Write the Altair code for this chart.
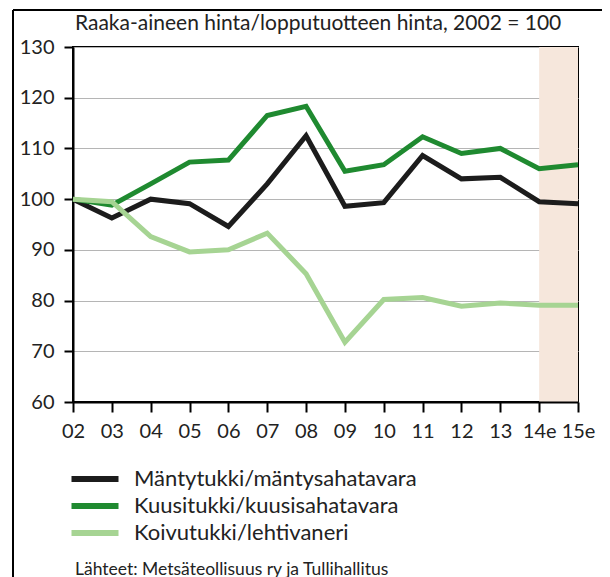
import altair as alt
import pandas as pd

years = ["02", "03", "04", "05", "06", "07", "08", "09", "10", "11", "12", "13", "14e", "15e"]
series_names = ["Mäntytukki/mäntysahatavara", "Kuusitukki/kuusisahatavara", "Koivutukki/lehtivaneri"]
manty = [100, 96.3, 100, 99.1, 94.6, 103, 112.5, 98.6, 99.3, 108.6, 104, 104.3, 99.5, 99.1]
kuusi = [100, 98.8, 103, 107.3, 107.7, 116.5, 118.3, 105.5, 106.8, 112.3, 109, 110, 106, 106.8]
koivu = [100, 99.5, 92.6, 89.6, 90, 93.3, 85.3, 71.8, 80.2, 80.6, 78.9, 79.5, 79.1, 79.1]
colors = ["#1c1c1c", "#1f8a30", "#a6d493"]
forecast_start, forecast_end = "14e", "15e"
title_text = "Raaka-aineen hinta/lopputuotteen hinta, 2002 = 100"
source_text = "Lähteet: Metsäteollisuus ry ja Tullihallitus"

rows = []
for k, (name, vals) in enumerate(zip(series_names, [manty, kuusi, koivu])):
    for y, v in zip(years, vals):
        rows.append({"year": y, "value": v, "series": name, "order": k})
df = pd.DataFrame(rows)

W, H = 505, 355
FONT = "Lato"
TXT = "#222222"

xscale = alt.Scale(type="point", domain=years, padding=0)
yscale = alt.Scale(domain=[60, 130], nice=False)
xaxis = alt.Axis(title=None, labelAngle=0, ticks=True, tickSize=10, tickWidth=2,
                 tickColor="black", domainColor="black", domainWidth=2,
                 labelFontSize=20, labelPadding=9, labelColor=TXT,
                 labelFont=FONT, grid=False)
yaxis = alt.Axis(title=None, values=list(range(60, 131, 10)), tickSize=9, tickWidth=2,
                 tickColor="black", domainColor="black", domainWidth=2,
                 labelFontSize=20, labelPadding=10, labelColor=TXT, labelFont=FONT,
                 grid=True, gridColor="#b5b5b5", gridWidth=1)

shade = alt.Chart(pd.DataFrame({"a": [forecast_start], "b": [forecast_end]})).mark_rect(
    color="#f6e7dc"
).encode(
    x=alt.X("a:N", scale=xscale, axis=xaxis),
    x2="b:N",
    y=alt.value(0),
    y2=alt.value(H),
)

lines = alt.Chart(df).mark_line(strokeWidth=5, strokeJoin="miter", strokeCap="butt").encode(
    x=alt.X("year:N", scale=xscale, sort=years, axis=xaxis),
    y=alt.Y("value:Q", scale=yscale, axis=yaxis),
    color=alt.Color("series:N", scale=alt.Scale(domain=series_names, range=colors),
                    legend=alt.Legend(title=None, orient="none", legendX=9, legendY=419,
                                      symbolType="M-2.35,0H2.35", symbolSize=400,
                                      symbolStrokeWidth=6, labelFontSize=22, labelFont=FONT,
                                      labelColor=TXT, labelOffset=26, rowPadding=2,
                                      labelLimit=400)),
    order=alt.Order("order:Q"),
    detail="series:N",
)

frame = alt.Chart(pd.DataFrame({"k": [0]})).mark_rule(color="black", strokeWidth=2).encode(
    x=alt.value(-60), y=alt.value(-37), y2=alt.value(600)
)
frame_top = alt.Chart(pd.DataFrame({"k": [0]})).mark_rule(color="black", strokeWidth=2).encode(
    x=alt.value(-60), x2=alt.value(600), y=alt.value(-37)
)
title = alt.Chart(pd.DataFrame({"t": [title_text]})).mark_text(
    align="left", baseline="alphabetic", fontSize=21, font=FONT, color=TXT
).encode(text="t:N", x=alt.value(2), y=alt.value(-17))
source = alt.Chart(pd.DataFrame({"t": [source_text]})).mark_text(
    align="left", baseline="alphabetic", fontSize=17.5, font=FONT, color=TXT
).encode(text="t:N", x=alt.value(2), y=alt.value(528))

chart = alt.layer(shade, lines, frame, frame_top, title, source).properties(
    width=W, height=H,
    padding={"left": 65, "top": 39, "right": 24, "bottom": 178},
    autosize=alt.AutoSizeParams(type="none"),
).configure_view(stroke="black", strokeWidth=2)

chart.save("out.html", embed_options={"renderer": "svg", "actions": False})
